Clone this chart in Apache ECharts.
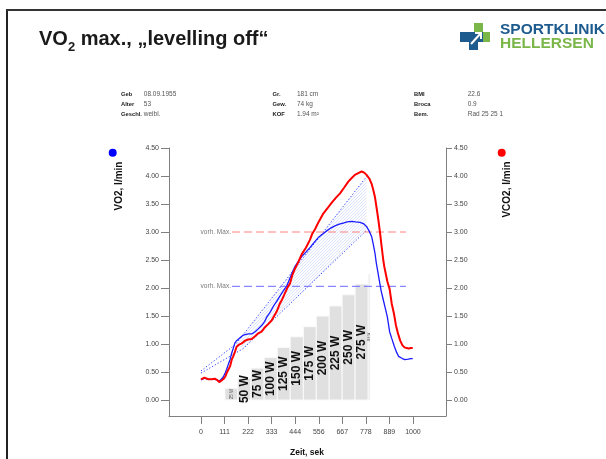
<!DOCTYPE html>
<html><head><meta charset="utf-8">
<script src="https://cdn.jsdelivr.net/npm/echarts@6/dist/echarts.min.js"></script>
<style>html,body{margin:0;padding:0;background:#fff}#c{width:606px;height:459px}</style>
</head><body><div id="c"></div>
<script>
// ---------- data ----------
const vo2Time = [0,8,16,25,35,50,65,75,86,95,105,115,121,130,137,145,152,160,168,184,200,223,239,255,270,286,300,310,325,341,357,373,390,404,420,433,443,460,475,495,514,535,553,573,593,612,632,652,671,690,711,730,750,766,781,793,805,813,821,827,833,841,850,860,870,879,890,900,912,923,932,940,950,962,970,978,990,999];
const vo2 = [0.36,0.35,0.39,0.38,0.37,0.37,0.37,0.36,0.33,0.35,0.41,0.49,0.55,0.65,0.72,0.84,0.92,1.02,1.06,1.11,1.16,1.18,1.18,1.22,1.27,1.33,1.40,1.48,1.56,1.67,1.76,1.86,1.96,2.03,2.18,2.30,2.38,2.48,2.56,2.64,2.72,2.82,2.90,2.96,3.02,3.07,3.11,3.14,3.16,3.18,3.19,3.18,3.17,3.15,3.10,3.02,2.92,2.78,2.62,2.45,2.32,2.14,1.95,1.79,1.63,1.49,1.22,1.10,0.96,0.85,0.78,0.75,0.74,0.72,0.72,0.73,0.74,0.74];
const vco2Time = [0,8,16,25,35,50,65,75,86,95,105,115,121,130,137,145,152,160,168,180,192,208,222,239,255,270,286,302,318,333,345,357,373,381,395,410,420,430,443,460,475,495,514,525,538,555,577,596,616,636,656,675,695,710,726,742,758,770,781,795,805,813,821,829,837,845,852,860,865,872,879,890,900,910,920,930,940,950,960,970,980,990,999];
const vco2 = [0.37,0.39,0.40,0.38,0.37,0.37,0.38,0.36,0.32,0.33,0.37,0.42,0.48,0.55,0.60,0.72,0.78,0.86,0.95,0.99,1.01,1.06,1.08,1.09,1.14,1.19,1.22,1.30,1.36,1.42,1.50,1.58,1.73,1.78,1.90,2.02,2.08,2.22,2.34,2.47,2.60,2.72,2.86,2.97,3.05,3.18,3.33,3.42,3.52,3.61,3.69,3.79,3.90,3.96,4.02,4.05,4.08,4.06,4.02,3.95,3.86,3.75,3.62,3.42,3.21,2.98,2.75,2.50,2.38,2.25,2.12,1.98,1.72,1.55,1.33,1.18,1.06,0.98,0.94,0.93,0.92,0.93,0.93];
const stageEdges = [113,173,236,298,360,421,483,544,605,666,727,789,797];
const stageValues = [0.21,0.39,0.57,0.76,0.94,1.13,1.31,1.50,1.68,1.88,2.07,2.25];
const stageLabels = ['25 W','50 W','75 W','100 W','125 W','150 W','175 W','200 W','225 W','250 W','275 W','300 W'];
const maxLineTime = [146, 967];
const predMaxVO2 = 2.03;
const predMaxVCO2 = 3.0;
const regUpper = [[0,0.52],[165,1.00],[781,3.99]];
const regLower = [[0,0.48],[200,0.92],[781,3.03]];
const wedge = [[165,1.00],[781,3.99],[781,3.03],[200,0.92]];
const xTickValues = [0,111.1,222.2,333.3,444.4,555.6,666.7,777.8,888.9,1000];
const xTickLabels = ['0','111','222','333','444','556','667','778','889','1000'];
const yTickValues = [0,0.5,1,1.5,2,2.5,3,3.5,4,4.5];
const infoKeys = [['Geb','Alter','Geschl.'],['Gr.','Gew.','KOF'],['BMI','Broca','Bem.']];
const infoVals = [['08.09.1955','53','weibl.'],['181 cm','74 kg','1.94 m²'],['22.6','0.9','Rad 25 25 1']];

// ---------- helpers ----------
const FONT = '"Liberation Sans", Arial, sans-serif';
const mctx = document.createElement('canvas').getContext('2d');
function tw(t, f){ mctx.font = f; return mctx.measureText(t).width; }
const pc = document.createElement('canvas'); pc.width = 3; pc.height = 3;
(function(){ const c = pc.getContext('2d'); c.strokeStyle='rgba(120,145,245,0.45)'; c.lineWidth=0.6;
  c.beginPath(); c.moveTo(0,3); c.lineTo(3,0); c.moveTo(-1,1); c.lineTo(1,-1); c.moveTo(2,4); c.lineTo(4,2); c.stroke(); })();

const chart = echarts.init(document.getElementById('c'), null, {renderer:'canvas'});
const axisColor = '#808080';
function yAxisCfg(pos, tickLen, margin){
  return {
    type:'value', position:pos, min:-0.2857, max:4.5,
    axisLine:{show:true, onZero:false, lineStyle:{color:axisColor}},
    axisTick:{show:true, customValues:yTickValues, length:tickLen, lineStyle:{color:axisColor}},
    axisLabel:{customValues:yTickValues, formatter:v=>v.toFixed(2), fontSize:7, color:'#444', margin:margin, fontFamily:FONT},
    splitLine:{show:false}
  };
}

// title pieces
const tFont = 'bold 20px ' + FONT, sFont = 'bold 13px ' + FONT;
const wVO = tw('VO', tFont), w2 = tw('2', sFont);
const graphics = [
  {type:'rect', shape:{x:6, y:9, width:2, height:460}, style:{fill:'#222'}},
  {type:'rect', shape:{x:6, y:9, width:610, height:2}, style:{fill:'#333'}},
  {type:'text', x:39, y:49.5, style:{text:'VO', font:tFont, fill:'#1a1a1a', verticalAlign:'bottom'}},
  {type:'text', x:39+wVO, y:53.5, style:{text:'2', font:sFont, fill:'#1a1a1a', verticalAlign:'bottom'}},
  {type:'text', x:39+wVO+w2, y:49.5, style:{text:' max., „levelling off“', font:tFont, fill:'#1a1a1a', verticalAlign:'bottom'}},
  // logo
  {type:'rect', shape:{x:474, y:23, width:9, height:9}, style:{fill:'#7ab648'}},
  {type:'rect', shape:{x:483, y:32, width:7, height:10}, style:{fill:'#7ab648'}},
  {type:'rect', shape:{x:460, y:32, width:10, height:10}, style:{fill:'#1d5a8e'}},
  {type:'rect', shape:{x:469, y:42, width:9, height:8}, style:{fill:'#1d5a8e'}},
  {type:'rect', shape:{x:470, y:32, width:13, height:10}, style:{fill:'#1d5a8e'}},
  {type:'polyline', shape:{points:[[471,44],[481,33]]}, style:{stroke:'#fff', lineWidth:2}},
  {type:'polyline', shape:{points:[[475,33],[481,33],[481,39]]}, style:{stroke:'#fff', lineWidth:2, fill:null}},
  {type:'text', x:500, y:38, style:{text:'SPORTKLINIK', font:'bold 15.5px '+FONT, fill:'#1d5a8e', verticalAlign:'bottom'}},
  {type:'text', x:500, y:52, style:{text:'HELLERSEN', font:'bold 15.5px '+FONT, fill:'#7ab648', verticalAlign:'bottom'}},
  // axis names and dots
  {type:'circle', shape:{cx:112.7, cy:152.7, r:4}, style:{fill:'#0000ff'}},
  {type:'circle', shape:{cx:501.7, cy:152.7, r:4}, style:{fill:'#ff0000'}},
  {type:'text', x:119, y:186, rotation:Math.PI/2, style:{text:'VO2, l/min', font:'bold 10px '+FONT, fill:'#111', align:'center', verticalAlign:'middle'}},
  {type:'text', x:507, y:189.5, rotation:Math.PI/2, style:{text:'VCO2, l/min', font:'bold 10px '+FONT, fill:'#111', align:'center', verticalAlign:'middle'}},
  {type:'text', x:307, y:453, style:{text:'Zeit, sek', font:'bold 8.5px '+FONT, fill:'#111', align:'center', verticalAlign:'middle'}}
];
const keyX = [121, 272.5, 414], valX = [143.8, 296.9, 467.7], rowY = [94, 104.3, 114.6];
infoKeys.forEach((col, ci) => col.forEach((k, ri) => {
  graphics.push({type:'text', x:keyX[ci], y:rowY[ri], style:{text:k, font:'bold 5.8px '+FONT, fill:'#222', verticalAlign:'middle'}});
  graphics.push({type:'text', x:valX[ci], y:rowY[ri], style:{text:infoVals[ci][ri], font:'6.5px '+FONT, fill:'#555', verticalAlign:'middle'}});
}));

const option = {
  animation:false,
  backgroundColor:'#fff',
  grid:{left:169, right:160, top:148, bottom:43},
  xAxis:{
    type:'value', min:-151, max:1156,
    axisLine:{show:true, onZero:false, lineStyle:{color:axisColor}},
    axisTick:{show:true, customValues:xTickValues, length:8, lineStyle:{color:axisColor}},
    axisLabel:{customValues:xTickValues, fontSize:7, color:'#444', margin:13, fontFamily:FONT,
      formatter:v=>{ let bi=0; xTickValues.forEach((t,i)=>{ if(Math.abs(t-v)<Math.abs(xTickValues[bi]-v)) bi=i; }); return xTickLabels[bi]; }},
    splitLine:{show:false}
  },
  yAxis:[yAxisCfg('left', 8, 10), yAxisCfg('right', 6, 8)],
  graphic:graphics,
  series:[
    { type:'custom', z:1,
      data: stageValues.map((v,i)=>[stageEdges[i], stageEdges[i+1], v]),
      encode:{x:[0,1], y:2},
      renderItem:(params, api)=>{
        const s=api.value(0), e=api.value(1), v=api.value(2);
        const p0=api.coord([s,v]), p1=api.coord([e,0]);
        const w=p1[0]-p0[0], h=p1[1]-p0[1];
        const i=params.dataIndex;
        let font='bold 12px '+FONT, fill='#111';
        if(i===0){ font='4.5px '+FONT; fill='#555'; }
        if(w<10){ font='3px '+FONT; fill='#555'; }
        return {type:'group', children:[
          {type:'rect', shape:{x:p0[0], y:p0[1], width:w, height:h}, style:{fill:'#e0e0e0', stroke:'#fafafa', lineWidth:1}},
          {type:'text', x:p0[0]+w/2, y:p0[1]+h/2, rotation:Math.PI/2, style:{text:stageLabels[i], font:font, fill:fill, align:'center', verticalAlign:'middle'}}
        ]};
      }
    },
    { type:'custom', z:2, data:[[0,0]], encode:{x:0,y:1},
      renderItem:(params, api)=>({type:'polygon', shape:{points:wedge.map(p=>api.coord(p))}, style:{fill:{image:pc, repeat:'repeat'}}})
    },
    { type:'line', z:3, data:regUpper, showSymbol:false, symbol:'none', lineStyle:{color:'#2b3bff', width:1, type:[1.2,2]}, silent:true },
    { type:'line', z:3, data:regLower, showSymbol:false, symbol:'none', lineStyle:{color:'#2b3bff', width:1, type:[1.2,2]}, silent:true },
    { type:'line', z:4, data:maxLineTime.map(t=>[t,predMaxVCO2]), symbol:'none', lineStyle:{color:'#ff8080', width:1, type:[8,4]} },
    { type:'line', z:4, data:maxLineTime.map(t=>[t,predMaxVO2]), symbol:'none', lineStyle:{color:'#6a6aff', width:1, type:[8,4]} },
    { type:'scatter', z:4, symbolSize:0, data:[[maxLineTime[0],predMaxVCO2],[maxLineTime[0],predMaxVO2]],
      label:{show:true, position:'left', distance:1, formatter:'vorh. Max.', fontSize:6.5, color:'#555', fontFamily:FONT} },
    { type:'line', z:5, data:vo2Time.map((t,i)=>[t,vo2[i]]), symbol:'none', lineStyle:{color:'#1a1aff', width:1.3} },
    { type:'line', z:6, data:vco2Time.map((t,i)=>[t,vco2[i]]), symbol:'none', lineStyle:{color:'#ff0000', width:2} }
  ]
};
chart.setOption(option);
</script></body></html>
